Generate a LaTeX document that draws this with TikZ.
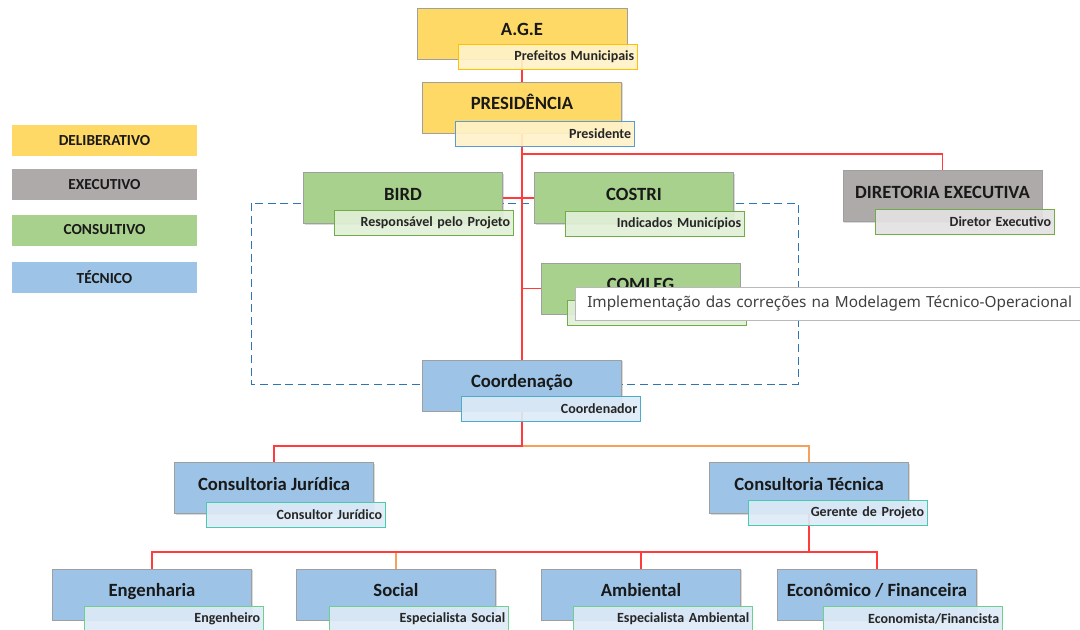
\documentclass[tikz,border=0pt]{standalone}
\usepackage{fontspec}
\setmainfont{Carlito}
\newfontfamily\tipfont{Noto Sans}
\usepackage{tikz}
\usetikzlibrary{shadows, backgrounds}

\begin{document}
\begin{tikzpicture}[x=0.75pt, y=-0.75pt,
  unitbox/.style={draw=gray!75, line width=0.6pt, minimum width=149.25pt, minimum height=38.25pt,
    inner sep=0pt, text height=10pt, text depth=7pt, text=black!90,
    font=\fontsize{14}{16}\selectfont\bfseries,
    drop shadow={shadow xshift=1.1pt, shadow yshift=-1.1pt, opacity=0.3}},
  rolebox/.style={anchor=north west, line width=0.8pt, minimum height=18.75pt, text width=129.25pt,
    inner xsep=2.5pt, inner ysep=0pt, align=right, text=black!85,
    font=\fontsize{10.5}{12}\selectfont\bfseries, fill opacity=0.92, text opacity=1},
  legendbox/.style={minimum width=138.75pt, minimum height=23.25pt, inner sep=0pt,
    text=black!90, font=\fontsize{11.5}{13}\selectfont\bfseries},
  redlink/.style={draw=linkred, line width=0.9pt},
  orangelink/.style={draw=linkorange, line width=0.9pt},
  dashline/.style={draw=dashblue, line width=0.75pt, dash pattern=on 6pt off 3.5pt}
]
  % Define colors
  \definecolor{cyellow}{HTML}{FFD966}
  \definecolor{cgray}{HTML}{AEAAAA}
  \definecolor{cgreen}{HTML}{A9D18E}
  \definecolor{cblue}{HTML}{9DC3E6}
  \definecolor{lineyellow}{HTML}{FFC000}
  \definecolor{lineblue}{HTML}{5B9BD5}
  \definecolor{linegreen}{HTML}{70AD47}
  \definecolor{linecyan}{HTML}{4BACC6}
  \definecolor{lineteal}{HTML}{48C9B0}
  \definecolor{linemint}{HTML}{6FCF8F}
  \definecolor{linkred}{HTML}{FF3B3B}
  \definecolor{linkorange}{HTML}{F7A05A}
  \definecolor{dashblue}{HTML}{2E75B6}

  \useasboundingbox (0,0) rectangle (1080,629);
  \clip (0,0) rectangle (1080,629);

  % Legend
  \node[legendbox, fill=cyellow] (leg-del) at (104.5,140.5) {DELIBERATIVO};
  \node[legendbox, fill=cgray] (leg-exe) at (104.5,184.5) {EXECUTIVO};
  \node[legendbox, fill=cgreen] (leg-con) at (104.5,230) {CONSULTIVO};
  \node[legendbox, fill=cblue] (leg-tec) at (104.5,277.5) {TÉCNICO};

  % Deliberativo
  \node[unitbox, fill=cyellow, minimum width=157.5pt] (age) at (522,33.5) {A.G.E};
  \node[rolebox, draw=lineyellow, fill=cyellow!35] (age-r) at (458,44) {Prefeitos Municipais};

  \node[unitbox, fill=cyellow] (pres) at (522,107.5) {PRESIDÊNCIA};
  \node[rolebox, draw=lineblue, fill=cyellow!35] (pres-r) at (455,121) {Presidente};

  % Consultivo
  \node[unitbox, fill=cgreen] (bird) at (403,198) {BIRD};
  \node[rolebox, draw=linegreen, fill=cgreen!35] (bird-r) at (334,210) {Responsável pelo Projeto};

  \node[unitbox, fill=cgreen] (costri) at (634,198) {COSTRI};
  \node[rolebox, draw=linegreen, fill=cgreen!35] (costri-r) at (565,211) {Indicados Municípios};

  \node[unitbox, fill=cgreen] (comleg) at (640.5,288.5) {COMLEG};
  \node[rolebox, draw=linegreen, fill=cgreen!35] (comleg-r) at (567,300) {};

  % Executivo
  \node[unitbox, fill=cgray] (dir) at (942.5,196) {DIRETORIA EXECUTIVA};
  \node[rolebox, draw=linegreen, fill=cgray!35] (dir-r) at (875,208.5) {Diretor Executivo};

  % Tecnico
  \node[unitbox, fill=cblue] (coord) at (522,385.5) {Coordenação};
  \node[rolebox, draw=linecyan, fill=cblue!35] (coord-r) at (461,396) {Coordenador};

  \node[unitbox, fill=cblue] (cjur) at (274,488) {Consultoria Jurídica};
  \node[rolebox, draw=lineteal, fill=cblue!35] (cjur-r) at (206,502) {Consultor Jurídico};

  \node[unitbox, fill=cblue] (ctec) at (809,488) {Consultoria Técnica};
  \node[rolebox, draw=lineteal, fill=cblue!35] (ctec-r) at (748,500) {Gerente de Projeto};

  \node[unitbox, fill=cblue] (eng) at (152,594.5) {Engenharia};
  \node[rolebox, draw=linemint, fill=cblue!35] (eng-r) at (84,606) {Engenheiro};

  \node[unitbox, fill=cblue] (soc) at (396,594.5) {Social};
  \node[rolebox, draw=linemint, fill=cblue!35] (soc-r) at (329,606) {Especialista Social};

  \node[unitbox, fill=cblue] (amb) at (641,594.5) {Ambiental};
  \node[rolebox, draw=linemint, fill=cblue!35] (amb-r) at (573,606) {Especialista Ambiental};

  \node[unitbox, fill=cblue] (econ) at (877,594.5) {Econômico / Financeira};
  \node[rolebox, draw=linemint, fill=cblue!35] (econ-r) at (823,606) {Economista/Financista};

  % Tooltip
  \node[anchor=north west, draw=gray!55, fill=white, minimum height=24.75pt, text width=372pt,
    inner xsep=9pt, inner ysep=0pt, text=black!75, font=\tipfont\fontsize{11.5}{13}\selectfont,
    drop shadow={shadow xshift=0.8pt, shadow yshift=-0.8pt, opacity=0.2}]
    (tip) at (575,287) {Implementação das correções na Modelagem Técnico-Operacional};

  % Connectors
  \coordinate (j-top) at (942.5,154);
  \coordinate (j-comleg) at (522,288.5);
  \coordinate (j-mid) at (522,446);
  \coordinate (j-low) at (809,552);
  \begin{scope}[on background layer]
    \draw[dashline] (251,203) rectangle (798,384);
    \draw[redlink] (age) -- (pres);
    \draw[redlink] (pres) -- (coord);
    \draw[redlink] (pres) |- (j-top) -- (dir);
    \draw[redlink] (bird) -- (costri);
    \draw[redlink] (j-comleg) -- (comleg);
    \draw[orangelink] (j-mid) -| (ctec);
    \draw[redlink] (coord) -- (j-mid) -| (cjur);
    \draw[orangelink] (j-low) -| (soc);
    \draw[redlink] (ctec) -- (j-low) -| (eng);
    \draw[redlink] (j-low) -| (amb);
    \draw[redlink] (j-low) -| (econ);
  \end{scope}
\end{tikzpicture}
\end{document}
